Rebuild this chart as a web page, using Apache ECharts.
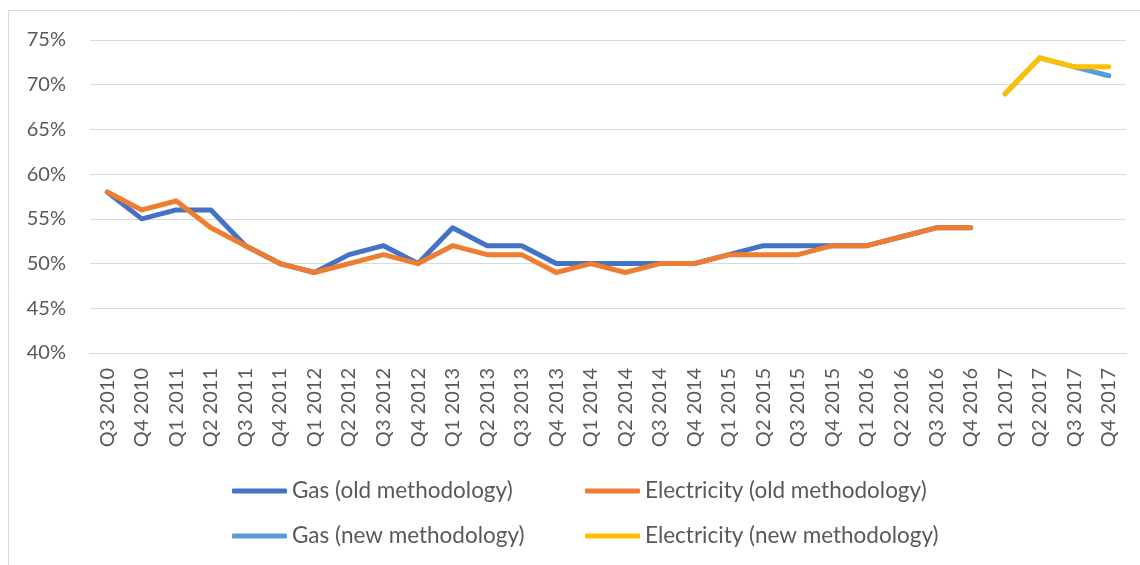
<!DOCTYPE html>
<html>
<head>
<meta charset="utf-8">
<script src="https://cdn.jsdelivr.net/npm/echarts@6/dist/echarts.min.js"></script>
<style>
  html, body { margin: 0; padding: 0; background: #fff; }
  #chart { width: 1140px; height: 565px; }
</style>
</head>
<body>
<div id="chart"></div>
<script>
// Quarters shown on the category axis
const quarters = [
  'Q3 2010', 'Q4 2010',
  'Q1 2011', 'Q2 2011', 'Q3 2011', 'Q4 2011',
  'Q1 2012', 'Q2 2012', 'Q3 2012', 'Q4 2012',
  'Q1 2013', 'Q2 2013', 'Q3 2013', 'Q4 2013',
  'Q1 2014', 'Q2 2014', 'Q3 2014', 'Q4 2014',
  'Q1 2015', 'Q2 2015', 'Q3 2015', 'Q4 2015',
  'Q1 2016', 'Q2 2016', 'Q3 2016', 'Q4 2016',
  'Q1 2017', 'Q2 2017', 'Q3 2017', 'Q4 2017'
];

// Percentages; null where a methodology has no value for that quarter
const gasOld = [58, 55, 56, 56, 52, 50, 49, 51, 52, 50, 54, 52, 52, 50, 50, 50, 50, 50,
  51, 52, 52, 52, 52, 53, 54, 54, null, null, null, null];
const electricityOld = [58, 56, 57, 54, 52, 50, 49, 50, 51, 50, 52, 51, 51, 49, 50, 49, 50, 50,
  51, 51, 51, 52, 52, 53, 54, 54, null, null, null, null];
const gasNew = [null, null, null, null, null, null, null, null, null, null, null, null, null, null,
  null, null, null, null, null, null, null, null, null, null, null, null, 69, 73, 72, 71];
const electricityNew = [null, null, null, null, null, null, null, null, null, null, null, null, null, null,
  null, null, null, null, null, null, null, null, null, null, null, null, 69, 73, 72, 72];

const yTicks = { min: 40, max: 75, step: 5 };

const seriesNames = [
  'Gas (old methodology)',
  'Electricity (old methodology)',
  'Gas (new methodology)',
  'Electricity (new methodology)'
];
const seriesColors = ['#4472C4', '#ED7D31', '#5B9BD5', '#FFC000'];
const seriesData = [gasOld, electricityOld, gasNew, electricityNew];

const FONT = 'Lato, "Open Sans", sans-serif';
const TEXT = '#595959';

const chart = echarts.init(document.getElementById('chart'), null, { renderer: 'canvas' });

const legendBase = {
  orient: 'vertical',
  top: 479,
  padding: 0,
  itemWidth: 55,
  itemHeight: 5,
  itemGap: 21,
  icon: 'roundRect',
  textStyle: { fontFamily: FONT, fontSize: 22.5, lineHeight: 24, color: TEXT },
  selectedMode: false
};

chart.setOption({
  animation: false,
  backgroundColor: '#fff',
  graphic: [{
    type: 'rect',
    shape: { x: 8.5, y: 10.5, width: 1200, height: 600 },
    style: { fill: 'none', stroke: '#D9D9D9', lineWidth: 1 },
    silent: true
  }],
  grid: { left: 90, right: 14, top: 40, bottom: 212, containLabel: false },
  legend: [
    Object.assign({}, legendBase, { left: 232, data: [seriesNames[0], seriesNames[2]] }),
    Object.assign({}, legendBase, { left: 585, data: [seriesNames[1], seriesNames[3]] })
  ],
  xAxis: {
    type: 'category',
    data: quarters,
    boundaryGap: true,
    axisLine: { show: true, lineStyle: { color: '#D9D9D9', width: 1 } },
    axisTick: { show: false },
    axisLabel: {
      rotate: 90,
      interval: 0,
      margin: 15,
      fontFamily: FONT,
      fontSize: 20,
      color: TEXT
    }
  },
  yAxis: {
    type: 'value',
    min: yTicks.min,
    max: yTicks.max,
    interval: yTicks.step,
    axisLine: { show: false },
    axisTick: { show: false },
    splitLine: { lineStyle: { color: '#D9D9D9', width: 1 } },
    axisLabel: {
      formatter: '{value}%',
      margin: 24,
      fontFamily: FONT,
      fontSize: 20,
      color: TEXT
    }
  },
  series: seriesNames.map((name, i) => ({
    name: name,
    type: 'line',
    data: seriesData[i],
    symbol: 'none',
    connectNulls: false,
    color: seriesColors[i],
    lineStyle: { width: 5, color: seriesColors[i], cap: 'round', join: 'round' },
    z: 2 + i
  }))
});
</script>
</body>
</html>
